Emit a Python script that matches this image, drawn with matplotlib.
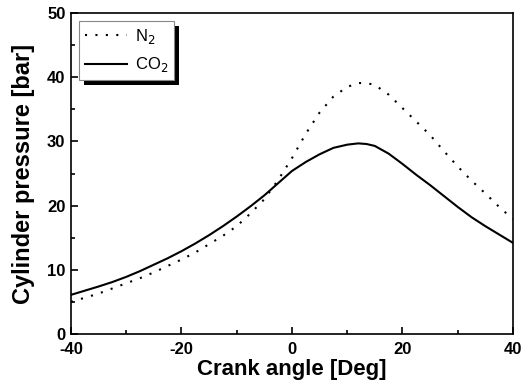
import matplotlib
matplotlib.use("Agg")
import matplotlib.pyplot as plt
from matplotlib.patches import Rectangle
from matplotlib.ticker import MultipleLocator

plt.rcParams['font.family'] = ['Liberation Sans', 'DejaVu Sans']
plt.rcParams['axes.unicode_minus'] = False

# valori
crank_angle = [-40, -35, -32.5, -30, -27.5, -25, -22.5, -20, -17.5, -15, -12.5, -10, -7.5, -5,
               -2.5, 0, 2.5, 5, 7.5, 10, 12, 13.5, 15, 17.5, 20, 22.5, 25, 27.5, 30, 32.5,
               35, 37.5, 40]
p_co2 = [6.1, 7.4, 8.1, 8.9, 9.8, 10.8, 11.8, 12.9, 14.1, 15.4, 16.8, 18.3, 19.9, 21.6,
         23.5, 25.4, 26.8, 28.0, 29.0, 29.5, 29.7, 29.6, 29.3, 28.1, 26.5, 24.8, 23.2, 21.5,
         19.8, 18.2, 16.8, 15.5, 14.2]
p_n2 = [5.0, 6.3, 7.1, 7.9, 8.7, 9.6, 10.6, 11.6, 12.7, 14.0, 15.3, 16.8, 18.8, 21.0,
        24.0, 27.4, 31.2, 34.5, 37.0, 38.5, 39.1, 39.1, 38.8, 37.3, 35.2, 33.1, 31.0, 28.5,
        26.1, 23.9, 21.9, 19.8, 17.9]

fig = plt.figure(figsize=(5.31, 3.85), dpi=100)
ax = fig.add_axes([0.1337, 0.1325, 0.8323, 0.8335])

ax.plot(crank_angle, p_n2, color='black', lw=1.5, linestyle=(0, (1, 4)), label='N$_2$')
ax.plot(crank_angle, p_co2, color='black', lw=1.5, label='CO$_2$')

ax.set_xlim(-40, 40)
ax.set_ylim(0, 50)
ax.xaxis.set_major_locator(MultipleLocator(20))
ax.xaxis.set_minor_locator(MultipleLocator(10))
ax.yaxis.set_major_locator(MultipleLocator(10))
ax.yaxis.set_minor_locator(MultipleLocator(5))
ax.tick_params(which='both', direction='in', top=False, right=False, width=1.2)
ax.tick_params(which='major', length=5, labelsize=12)
ax.tick_params(axis='x', which='major', pad=6)
ax.tick_params(axis='y', which='major', pad=4)
ax.tick_params(which='minor', length=3)
for lab in ax.get_xticklabels() + ax.get_yticklabels():
    lab.set_fontweight('bold')
for s in ax.spines.values():
    s.set_linewidth(1.2)

ax.set_xlabel('Crank angle [Deg]', fontsize=16, fontweight='bold', labelpad=1)
ax.set_ylabel('Cylinder pressure [bar]', fontsize=17, fontweight='bold', labelpad=9)

leg = ax.legend(loc='upper left', fontsize=12, frameon=True, fancybox=False,
                framealpha=1, handlelength=2.5, handletextpad=0.5, borderpad=0.35,
                labelspacing=0.55, borderaxespad=0.5)
leg.get_frame().set_edgecolor('#888888')
leg.get_frame().set_linewidth(0.8)
leg.set_zorder(5)

# ombra nera sotto la legenda
fig.canvas.draw()
bb = leg.get_window_extent()
shadow = Rectangle((bb.x0 + 5, bb.y0 - 5), bb.width, bb.height, transform=None,
                   facecolor='black', edgecolor='none')
shadow.set_zorder(4)
ax.add_artist(shadow)

fig.savefig('out.png', dpi=100)
